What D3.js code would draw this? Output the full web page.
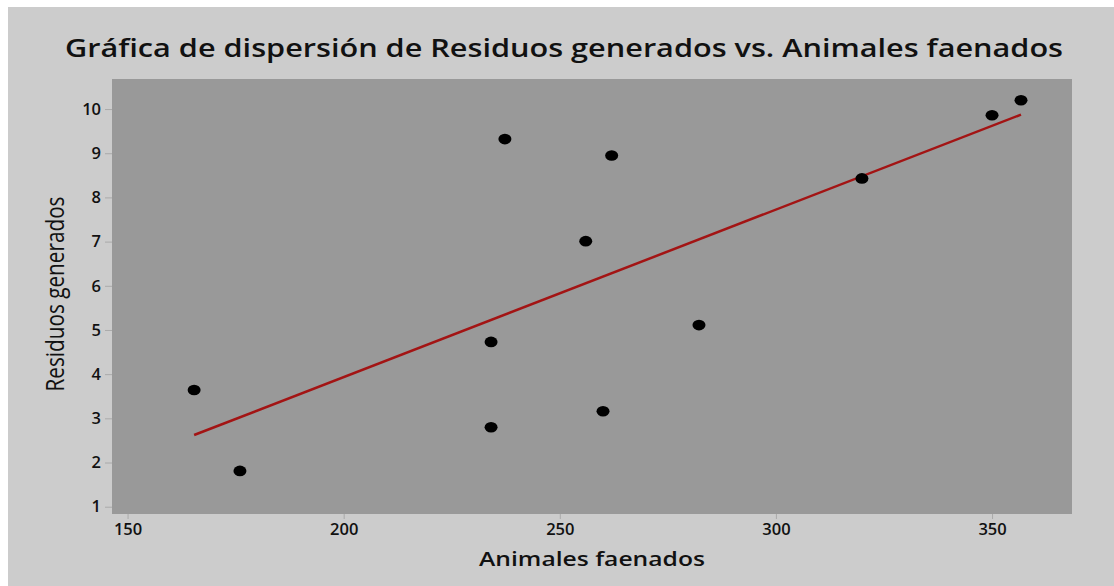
<!DOCTYPE html>
<html>
<head>
<meta charset="utf-8">
<script src="https://cdn.jsdelivr.net/npm/d3@7"></script>
<style>
  body { margin: 0; background: #ffffff; }
  svg { display: block; }
</style>
</head>
<body>
<div id="chart"></div>
<script>
// data
var animales = [165.4, 176, 234.1, 234.1, 237.3, 256, 260, 262, 282.2, 319.9, 350, 356.7]
var residuos = [3.64, 1.81, 2.80, 4.73, 9.32, 7.01, 3.16, 8.95, 5.11, 8.43, 9.86, 10.2]
var xTicks = [150, 200, 250, 300, 350]
var yTicks = [1, 2, 3, 4, 5, 6, 7, 8, 9, 10]

var W = 1114, H = 586
var margin = {top: 79, right: 42, bottom: 72, left: 112},
  width = W - margin.left - margin.right,
  height = H - margin.top - margin.bottom

var svg = d3.select('#chart')
  .append('svg')
  .attr('width', W)
  .attr('height', H)

// outer panel
svg.append('rect')
  .attr('x', 8).attr('y', 7)
  .attr('width', W - 8).attr('height', H - 7)
  .attr('fill', '#cccccc')

var g = svg.append('g')
  .attr('transform', 'translate(' + margin.left + ',' + margin.top + ')')

// plot area
g.append('rect')
  .attr('width', width).attr('height', height)
  .attr('fill', '#999999')

var x = d3.scaleLinear().domain([146.4, 368.5]).range([0, width])
var y = d3.scaleLinear().domain([0.835, 10.68]).range([height, 0])

var font = "'Open Sans', sans-serif"

// X axis
var xAxis = g.append('g')
  .attr('transform', 'translate(0,' + height + ')')
  .call(d3.axisBottom(x).tickValues(xTicks).tickSize(5).tickPadding(4))
xAxis.select('.domain').remove()
xAxis.selectAll('line').attr('stroke', '#aaaaaa')
xAxis.selectAll('text')
  .style('font-family', font).style('font-size', '16.5px').style('font-weight', 600)
  .attr('fill', '#111111')

// Y axis
var yAxis = g.append('g')
  .call(d3.axisLeft(y).tickValues(yTicks).tickSize(7).tickPadding(4))
yAxis.select('.domain').remove()
yAxis.selectAll('line').attr('stroke', '#aaaaaa')
yAxis.selectAll('text')
  .style('font-family', font).style('font-size', '16.5px').style('font-weight', 600)
  .attr('fill', '#111111')

// fitted line (least squares on the points)
var mx = d3.mean(animales), my = d3.mean(residuos)
var sxy = d3.sum(animales, function (v, i) { return (v - mx) * (residuos[i] - my) })
var sxx = d3.sum(animales, function (v) { return (v - mx) * (v - mx) })
var slope = sxy / sxx, icpt = my - slope * mx
var xmin = d3.min(animales), xmax = d3.max(animales)
g.append('line')
  .attr('x1', x(xmin)).attr('y1', y(icpt + slope * xmin))
  .attr('x2', x(xmax)).attr('y2', y(icpt + slope * xmax))
  .attr('stroke', '#a31414')
  .attr('stroke-width', 2.5)

// points
g.selectAll('.dot')
  .data(animales)
  .enter()
  .append('ellipse')
  .attr('class', 'dot')
  .attr('cx', function (d) { return x(d) })
  .attr('cy', function (d, i) { return y(residuos[i]) })
  .attr('rx', 6.5)
  .attr('ry', 5.3)
  .attr('fill', '#000000')

// title
svg.append('text')
  .attr('x', 564).attr('y', 57)
  .attr('text-anchor', 'middle')
  .attr('textLength', 998).attr('lengthAdjust', 'spacingAndGlyphs')
  .style('font-family', font).style('font-size', '26px').style('font-weight', 600)
  .attr('fill', '#111111')
  .text('Gráfica de dispersión de Residuos generados vs. Animales faenados')

// X label
svg.append('text')
  .attr('x', margin.left + width / 2).attr('y', 566)
  .attr('text-anchor', 'middle')
  .attr('textLength', 226).attr('lengthAdjust', 'spacingAndGlyphs')
  .style('font-family', font).style('font-size', '19.5px').style('font-weight', 600)
  .attr('fill', '#111111')
  .text('Animales faenados')

// Y label
svg.append('text')
  .attr('transform', 'translate(64,' + 294 + ')rotate(-90)')
  .attr('text-anchor', 'middle')
  .attr('textLength', 195).attr('lengthAdjust', 'spacingAndGlyphs')
  .style('font-family', font).style('font-size', '26px')
  .attr('fill', '#111111')
  .text('Residuos generados')
</script>
</body>
</html>
